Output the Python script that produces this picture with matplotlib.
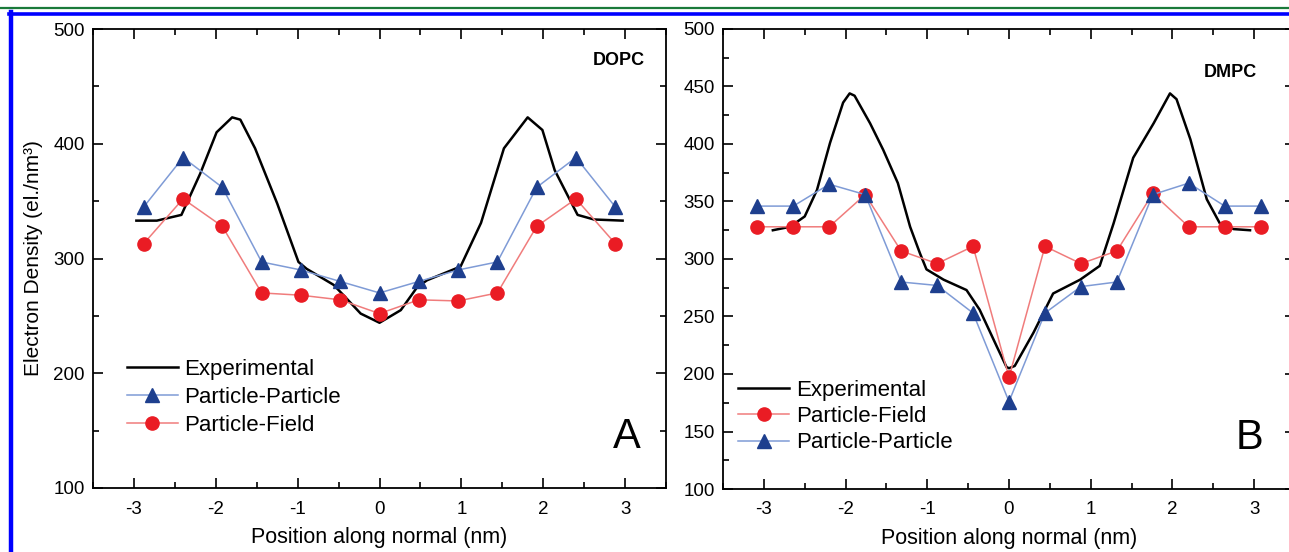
import matplotlib
matplotlib.use("Agg")
import matplotlib.pyplot as plt
from matplotlib.lines import Line2D
from matplotlib.ticker import MultipleLocator

plt.rcParams['font.family'] = ['Liberation Sans', 'DejaVu Sans']
plt.rcParams['axes.unicode_minus'] = False

# ---- panel A : DOPC ----
a_sim_x = [-2.88, -2.40, -1.92, -1.44, -0.96, -0.48, 0.0, 0.48, 0.96, 1.44, 1.92, 2.40, 2.88]
a_pp_y = [345, 388, 362, 297, 290, 280, 270, 280, 290, 297, 362, 388, 345]
a_pf_y = [313, 352, 328, 270, 268, 264, 252, 264, 263, 270, 328, 352, 313]
a_exp_x = [-2.97, -2.72, -2.42, -2.19, -1.99, -1.80, -1.70, -1.52, -1.25, -0.99, -0.89,
           -0.56, -0.44, -0.23, 0.0, 0.26, 0.46, 0.58, 0.99, 1.24, 1.52, 1.81, 1.99,
           2.14, 2.42, 2.62, 2.97]
a_exp_y = [333, 333, 338, 374, 410, 423, 421, 396, 348, 297, 291,
           277, 268, 252, 244, 255, 275, 281, 293, 331, 396, 423, 412,
           377, 338, 334, 333]

# ---- panel B : DMPC ----
b_sim_x = [-3.08, -2.64, -2.20, -1.76, -1.32, -0.88, -0.44, 0.0, 0.44, 0.88, 1.32, 1.76, 2.20, 2.64, 3.08]
b_pp_y = [346, 346, 365, 356, 280, 277, 253, 176, 253, 276, 280, 356, 366, 346, 346]
b_pf_y = [328, 328, 328, 356, 307, 296, 311, 197, 311, 296, 307, 357, 328, 328, 328]
b_exp_x = [-2.89, -2.68, -2.50, -2.35, -2.19, -2.03, -1.95, -1.89, -1.70, -1.54, -1.36,
           -1.21, -1.09, -1.01, -0.80, -0.52, -0.36, -0.15, -0.03, 0.0, 0.07, 0.30,
           0.54, 0.87, 1.11, 1.28, 1.52, 1.77, 1.97, 2.05, 2.22, 2.42, 2.58, 2.75, 2.95]
b_exp_y = [325, 328, 337, 360, 401, 436, 444, 442, 418, 395, 366,
           328, 305, 291, 282, 273, 256, 224, 206, 205, 207, 236,
           270, 282, 294, 331, 388, 418, 444, 439, 404, 352, 331, 326, 325]

PP_LINE = '#7f9bd6'
PP_MARK = '#1e3f8e'
PF_LINE = '#f07c7c'
PF_MARK = '#ea1c24'

fig = plt.figure(figsize=(12.89, 5.52), dpi=100)

# page decorations: green rule and blue frame
fig.add_artist(Line2D([0, 1], [1 - 8 / 552, 1 - 8 / 552], color='#1a7a3a', lw=1.6))
fig.add_artist(Line2D([9 / 1289, 1], [1 - 13.5 / 552, 1 - 13.5 / 552], color='#0000ff', lw=2.6))
fig.add_artist(Line2D([11 / 1289, 11 / 1289], [0, 1 - 12 / 552], color='#0000ff', lw=3.2))

axA = fig.add_axes([93 / 1289, 64 / 552, 573 / 1289, 459 / 552])
axB = fig.add_axes([723 / 1289, 63 / 552, 572 / 1289, 460 / 552])


def style(ax, major_y, minor_y):
    ax.set_xlim(-3.5, 3.5)
    ax.set_ylim(100, 500)
    ax.xaxis.set_major_locator(MultipleLocator(1))
    ax.xaxis.set_minor_locator(MultipleLocator(0.5))
    ax.yaxis.set_major_locator(MultipleLocator(major_y))
    ax.yaxis.set_minor_locator(MultipleLocator(minor_y))
    ax.tick_params(which='both', direction='in', top=True, right=True,
                   labelsize=13.5, width=1.2)
    ax.tick_params(which='major', length=7)
    ax.tick_params(which='minor', length=4)
    ax.tick_params(axis='x', pad=9)
    ax.tick_params(axis='y', pad=6)
    for s in ax.spines.values():
        s.set_linewidth(1.3)
    ax.set_xlabel('Position along normal (nm)', fontsize=15.5, labelpad=7)


def pp(ax, x, y):
    ax.plot(x, y, color=PP_LINE, lw=1.1, marker='^', ms=9.5,
            mfc=PP_MARK, mec=PP_MARK, label='Particle-Particle')


def pf(ax, x, y):
    ax.plot(x, y, color=PF_LINE, lw=1.1, marker='o', ms=9.5,
            mfc=PF_MARK, mec=PF_MARK, label='Particle-Field')


# panel A
axA.plot(a_exp_x, a_exp_y, color='black', lw=1.8, label='Experimental')
pp(axA, a_sim_x, a_pp_y)
pf(axA, a_sim_x, a_pf_y)
style(axA, 100, 50)
axA.set_ylabel('Electron Density (el./nm³)', fontsize=15, labelpad=7)
axA.text(0.963, 0.932, 'DOPC', transform=axA.transAxes, ha='right', va='center',
         fontsize=13, fontweight='bold')
axA.text(0.932, 0.111, 'A', transform=axA.transAxes, ha='center', va='center',
         fontsize=30)
axA.legend(loc='upper left', bbox_to_anchor=(0.043, 0.3), frameon=False,
           fontsize=16, numpoints=1, handlelength=2.3, handletextpad=0.3,
           labelspacing=0.3, borderaxespad=0)

# panel B
axB.plot(b_exp_x, b_exp_y, color='black', lw=1.8, label='Experimental')
pf(axB, b_sim_x, b_pf_y)
pp(axB, b_sim_x, b_pp_y)
style(axB, 50, 25)
axB.text(0.934, 0.906, 'DMPC', transform=axB.transAxes, ha='right', va='center',
         fontsize=13, fontweight='bold')
axB.text(0.921, 0.111, 'B', transform=axB.transAxes, ha='center', va='center',
         fontsize=30)
axB.legend(loc='upper left', bbox_to_anchor=(0.011, 0.257), frameon=False,
           fontsize=16, numpoints=1, handlelength=2.3, handletextpad=0.3,
           labelspacing=0.24, borderaxespad=0)

fig.savefig('out.png', dpi=100)
